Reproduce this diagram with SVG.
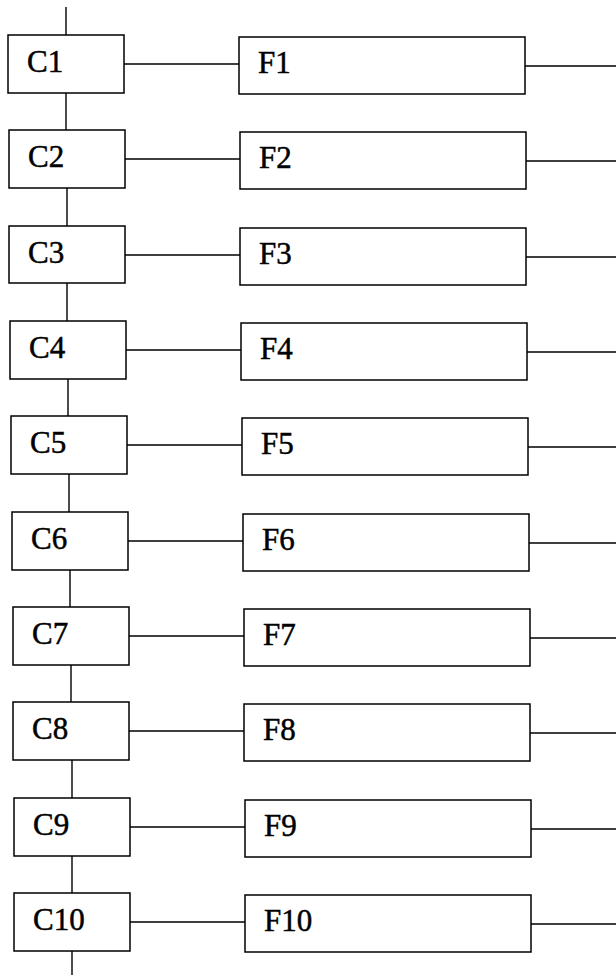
<svg xmlns="http://www.w3.org/2000/svg" width="616" height="975" viewBox="0 0 616 975">
<style>
.box{fill:#fff;stroke:#000;stroke-width:1.5}
.ln{stroke:#000;stroke-width:1.4;fill:none}
.t{font-family:"Liberation Serif",serif;font-size:31px;fill:#000;stroke:#000;stroke-width:0.5}
</style>
<rect width="616" height="975" fill="#fff"/>
<g id="connectors">
<path class="ln" d="M66 7V35M66 93V130M67 188V226M67 283V321M68 379V416M69 474V512M70 570V607M71 665V702M72 760V798M72 856V893M72 951V975"/>
<path class="ln" d="M124 64H239M125 159H240M125 255H240M126 350H241M127 445H242M128 541H243M129 636H244M129 731H244M130 827H245M130 922H245"/>
<path class="ln" d="M525 66H616M526 161H616M526 257H616M527 352H616M528 447H616M529 543H616M530 638H616M530 733H616M531 829H616M531 924H616"/>
</g>
<g id="C1"><rect class="box" x="8" y="35" width="116" height="58"/><text class="t" x="27" y="72">C1</text></g>
<g id="F1"><rect class="box" x="239" y="37" width="286" height="57"/><text class="t" x="258" y="73">F1</text></g>
<g id="C2"><rect class="box" x="9" y="130" width="116" height="58"/><text class="t" x="28" y="167">C2</text></g>
<g id="F2"><rect class="box" x="240" y="132" width="286" height="57"/><text class="t" x="259" y="168">F2</text></g>
<g id="C3"><rect class="box" x="9" y="226" width="116" height="57"/><text class="t" x="28" y="263">C3</text></g>
<g id="F3"><rect class="box" x="240" y="228" width="286" height="57"/><text class="t" x="259" y="264">F3</text></g>
<g id="C4"><rect class="box" x="10" y="321" width="116" height="58"/><text class="t" x="29" y="358">C4</text></g>
<g id="F4"><rect class="box" x="241" y="323" width="286" height="57"/><text class="t" x="260" y="359">F4</text></g>
<g id="C5"><rect class="box" x="11" y="416" width="116" height="58"/><text class="t" x="30" y="453">C5</text></g>
<g id="F5"><rect class="box" x="242" y="418" width="286" height="57"/><text class="t" x="261" y="454">F5</text></g>
<g id="C6"><rect class="box" x="12" y="512" width="116" height="58"/><text class="t" x="31" y="549">C6</text></g>
<g id="F6"><rect class="box" x="243" y="514" width="286" height="57"/><text class="t" x="262" y="550">F6</text></g>
<g id="C7"><rect class="box" x="13" y="607" width="116" height="58"/><text class="t" x="32" y="644">C7</text></g>
<g id="F7"><rect class="box" x="244" y="609" width="286" height="57"/><text class="t" x="263" y="645">F7</text></g>
<g id="C8"><rect class="box" x="13" y="702" width="116" height="58"/><text class="t" x="32" y="739">C8</text></g>
<g id="F8"><rect class="box" x="244" y="704" width="286" height="57"/><text class="t" x="263" y="740">F8</text></g>
<g id="C9"><rect class="box" x="14" y="798" width="116" height="58"/><text class="t" x="33" y="835">C9</text></g>
<g id="F9"><rect class="box" x="245" y="800" width="286" height="57"/><text class="t" x="264" y="836">F9</text></g>
<g id="C10"><rect class="box" x="14" y="893" width="116" height="58"/><text class="t" x="33" y="930">C10</text></g>
<g id="F10"><rect class="box" x="245" y="895" width="286" height="57"/><text class="t" x="264" y="931">F10</text></g>
</svg>
